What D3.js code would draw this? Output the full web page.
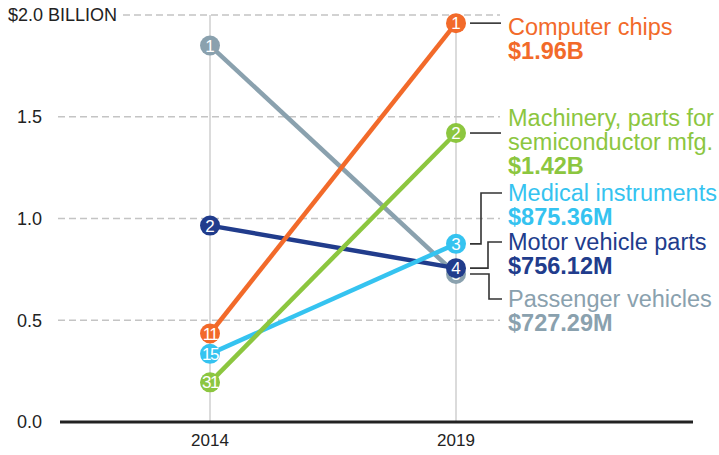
<!DOCTYPE html>
<html>
<head>
<meta charset="utf-8">
<script src="https://cdn.jsdelivr.net/npm/d3@7"></script>
<style>
  body { margin: 0; background: #fff; }
  text { font-family: "Liberation Sans", Arial, sans-serif; }
</style>
</head>
<body>
<div id="chart"></div>
<script>
// data
var years = [2014, 2019];
var names = ["Passenger vehicles", "Motor vehicle parts", "Medical instruments",
             "Machinery, parts for|semiconductor mfg.", "Computer chips"];
var values2014 = [1.85, 0.965, 0.335, 0.195, 0.435];
var values2019 = [0.72729, 0.75612, 0.87536, 1.42, 1.96];
var ranks2014 = [1, 2, 15, 31, 11];
var ranks2019 = [5, 4, 3, 2, 1];
var valueLabels = ["$727.29M", "$756.12M", "$875.36M", "$1.42B", "$1.96B"];
var colors = ["#8aa1ae", "#213c8c", "#35c3f0", "#8cc63f", "#f26a2a"];
var yTicks = [0, 0.5, 1.0, 1.5, 2.0];

// label layout (top line y of each label, plus leader elbow x)
var labelTop = [299, 242, 193, 118, 27];
var elbowX = [489, 488, 481, null, null];

var w = 719, h = 455;

var svg = d3.select("#chart")
            .append("svg")
            .attr("width", w)
            .attr("height", h);

var x = d3.scaleLinear().domain([2014, 2019]).range([210, 456]);
var y = d3.scaleLinear().domain([0, 2]).range([422, 15]);

// horizontal dashed grid
svg.selectAll("line.grid")
   .data(yTicks.filter(function(d) { return d > 0; }))
   .enter()
   .append("line")
   .attr("class", "grid")
   .attr("x1", function(d) { return d === 2 ? 123 : 58; })
   .attr("x2", 500)
   .attr("y1", function(d) { return y(d); })
   .attr("y2", function(d) { return y(d); })
   .attr("stroke", "#c4c4c4")
   .attr("stroke-width", 1.3)
   .attr("stroke-dasharray", "7,4");

// vertical year lines
svg.selectAll("line.year")
   .data(years)
   .enter()
   .append("line")
   .attr("class", "year")
   .attr("x1", function(d) { return x(d); })
   .attr("x2", function(d) { return x(d); })
   .attr("y1", y(2))
   .attr("y2", y(0))
   .attr("stroke", "#c8c8c8")
   .attr("stroke-width", 1.3);

// y tick labels
svg.selectAll("text.ytick")
   .data(yTicks)
   .enter()
   .append("text")
   .attr("class", "ytick")
   .attr("x", function(d) { return d === 2 ? 8 : 42; })
   .attr("y", function(d) { return y(d); })
   .attr("dy", "0.36em")
   .attr("text-anchor", function(d) { return d === 2 ? "start" : "end"; })
   .attr("font-size", "18px")
   .attr("fill", "#222")
   .text(function(d) { return d === 2 ? "$2.0 BILLION" : d.toFixed(1); });

// baseline
svg.append("line")
   .attr("x1", 60).attr("x2", 693)
   .attr("y1", y(0)).attr("y2", y(0))
   .attr("stroke", "#222")
   .attr("stroke-width", 3);

// x labels
svg.selectAll("text.xtick")
   .data(years)
   .enter()
   .append("text")
   .attr("class", "xtick")
   .attr("x", function(d) { return x(d); })
   .attr("y", 446)
   .attr("text-anchor", "middle")
   .attr("font-size", "17px")
   .attr("fill", "#222")
   .text(function(d) { return d; });

var idx = d3.range(names.length);

// slope lines
svg.selectAll("line.slope")
   .data(idx)
   .enter()
   .append("line")
   .attr("class", "slope")
   .attr("x1", x(2014)).attr("x2", x(2019))
   .attr("y1", function(i) { return y(values2014[i]); })
   .attr("y2", function(i) { return y(values2019[i]); })
   .attr("stroke", function(i) { return colors[i]; })
   .attr("stroke-width", 4.5);

// circles with rank
function dots(vals, ranks, year) {
  var g = svg.selectAll("g.dot" + year)
     .data(idx)
     .enter()
     .append("g")
     .attr("class", "dot" + year)
     .attr("transform", function(i) { return "translate(" + x(year) + "," + y(vals[i]) + ")"; });
  g.append("circle")
   .attr("r", 10)
   .attr("fill", function(i) { return colors[i]; });
  g.append("text")
   .attr("text-anchor", "middle")
   .attr("dy", "0.36em")
   .attr("font-size", "17px")
   .attr("letter-spacing", function(i) { return ranks[i] > 9 ? "-1.5px" : "0px"; })
   .attr("fill", "#fff")
   .text(function(i) { return ranks[i]; });
}
dots(values2014, ranks2014, 2014);
dots(values2019, ranks2019, 2019);

// leader lines
svg.selectAll("path.leader")
   .data(idx)
   .enter()
   .append("path")
   .attr("class", "leader")
   .attr("fill", "none")
   .attr("stroke", "#333")
   .attr("stroke-width", 1.6)
   .attr("d", function(i) {
     var y0 = y(values2019[i]);
     if (elbowX[i] === null) return "M470," + y0 + "H501";
     return "M470," + y0 + "H" + elbowX[i] + "V" + labelTop[i] + "H502";
   });

// labels
idx.forEach(function(i) {
  var lines = names[i].split("|");
  var t = svg.append("text")
     .attr("x", 508)
     .attr("y", labelTop[i])
     .attr("font-size", "23.5px")
     .attr("fill", colors[i]);
  lines.forEach(function(l, k) {
    t.append("tspan")
     .attr("x", 508)
     .attr("dy", k === 0 ? "0.36em" : "24px")
     .text(l);
  });
  t.append("tspan")
   .attr("x", 508)
   .attr("dy", "24px")
   .attr("font-weight", "bold")
   .text(valueLabels[i]);
});
</script>
</body>
</html>
